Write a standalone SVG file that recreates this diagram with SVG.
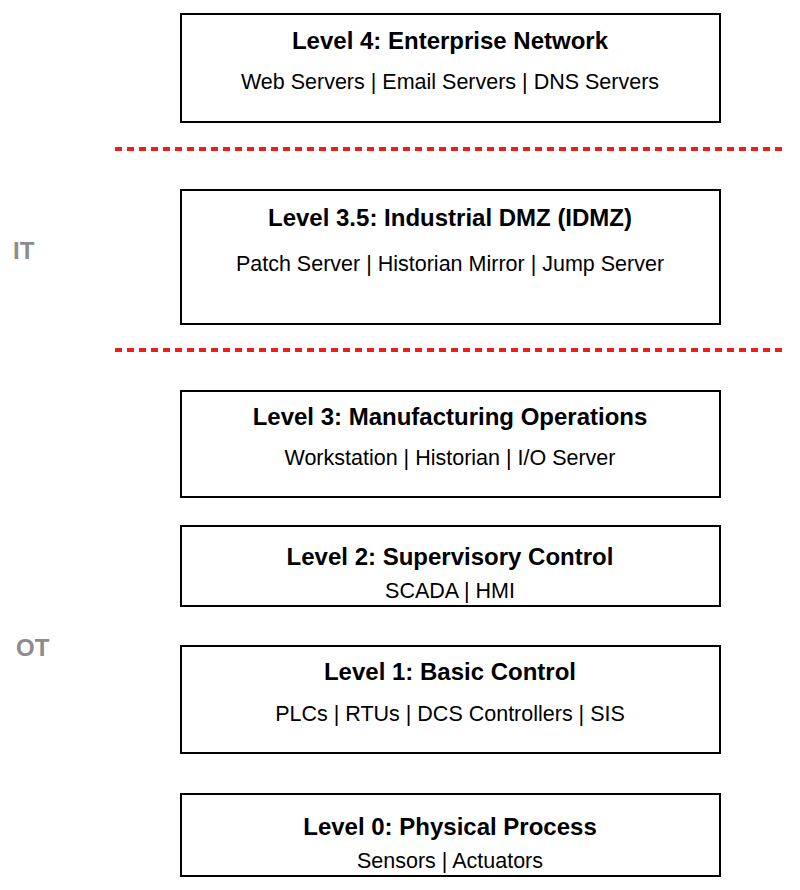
<svg xmlns="http://www.w3.org/2000/svg" width="800" height="890" viewBox="0 0 800 890">
<style>
.box{fill:#fff;stroke:#000;stroke-width:2}
.t{font-family:"Liberation Sans",Arial,sans-serif;font-size:24px;font-weight:bold;text-anchor:middle;fill:#000}
.s{font-family:"Liberation Sans",Arial,sans-serif;font-size:21.5px;text-anchor:middle;fill:#000}
.z{font-family:"Liberation Sans",Arial,sans-serif;font-size:24px;font-weight:bold;fill:#8c8c8c}
.d{stroke:#e8201a;stroke-width:4;stroke-dasharray:7,5}
</style>
<rect width="800" height="890" fill="#fff"/>
<g id="connectors">
<line class="d" x1="115" y1="149" x2="785" y2="149"/>
<line class="d" x1="115" y1="350" x2="785" y2="350"/>
</g>
<text class="z" x="13" y="259">IT</text>
<text class="z" x="16" y="656">OT</text>
<g id="l4"><rect class="box" x="181" y="14" width="539" height="108"/><text class="t" x="450" y="49">Level 4: Enterprise Network</text><text class="s" x="450" y="89">Web Servers | Email Servers | DNS Servers</text></g>
<g id="l35"><rect class="box" x="181" y="190" width="539" height="134"/><text class="t" x="450" y="226">Level 3.5: Industrial DMZ (IDMZ)</text><text class="s" x="450" y="271">Patch Server | Historian Mirror | Jump Server</text></g>
<g id="l3"><rect class="box" x="181" y="391" width="539" height="106"/><text class="t" x="450" y="425">Level 3: Manufacturing Operations</text><text class="s" x="450" y="465">Workstation | Historian | I/O Server</text></g>
<g id="l2"><rect class="box" x="181" y="526" width="539" height="80"/><text class="t" x="450" y="565">Level 2: Supervisory Control</text><text class="s" x="450" y="598">SCADA | HMI</text></g>
<g id="l1"><rect class="box" x="181" y="646" width="539" height="107"/><text class="t" x="450" y="680">Level 1: Basic Control</text><text class="s" x="450" y="721">PLCs | RTUs | DCS Controllers | SIS</text></g>
<g id="l0"><rect class="box" x="181" y="794" width="539" height="82"/><text class="t" x="450" y="835">Level 0: Physical Process</text><text class="s" x="450" y="868">Sensors | Actuators</text></g>
</svg>
